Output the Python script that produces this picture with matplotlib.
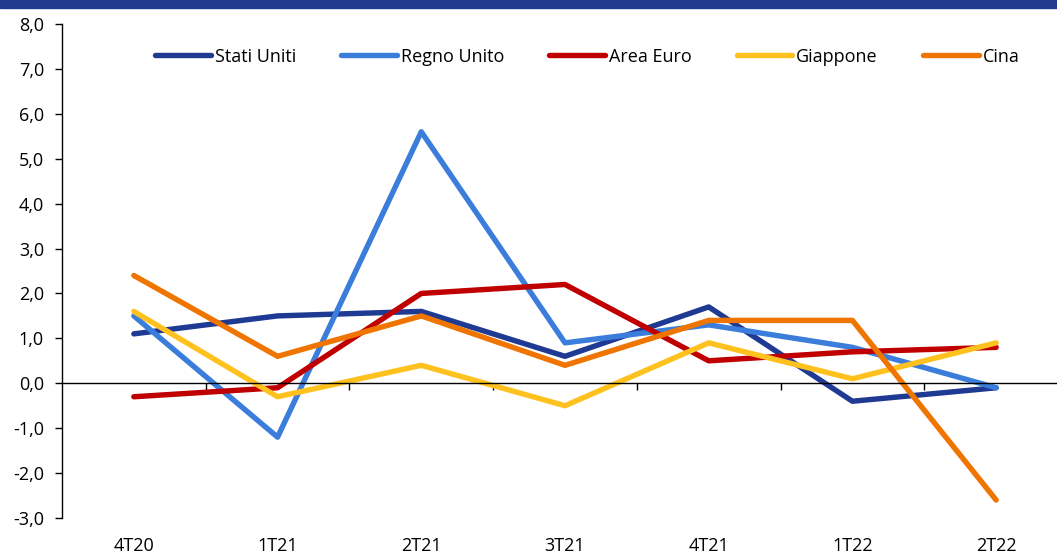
import numpy as np
import matplotlib
matplotlib.use("Agg")
from matplotlib import pyplot as plt
from matplotlib.patches import Rectangle

plt.rcParams['font.family'] = ['Open Sans', 'DejaVu Sans']

quarters = ['4T20', '1T21', '2T21', '3T21', '4T21', '1T22', '2T22']
stati_uniti = [1.1, 1.5, 1.6, 0.6, 1.7, -0.4, -0.1]
regno_unito = [1.5, -1.2, 5.6, 0.9, 1.3, 0.8, -0.1]
area_euro = [-0.3, -0.1, 2.0, 2.2, 0.5, 0.7, 0.8]
giappone = [1.6, -0.3, 0.4, -0.5, 0.9, 0.1, 0.9]
cina = [2.4, 0.6, 1.5, 0.4, 1.4, 1.4, -2.6]

series = [('Stati Uniti', stati_uniti, '#1f3a93'),
          ('Regno Unito', regno_unito, '#3a7ddb'),
          ('Area Euro', area_euro, '#c00000'),
          ('Giappone', giappone, '#ffc11e'),
          ('Cina', cina, '#ef7500')]

W, H = 1057, 554
fig = plt.figure(figsize=(W/100, H/100), dpi=100)
# dark band on top
fig.add_artist(Rectangle((0, 1 - 8/H), 1, 8/H, transform=fig.transFigure,
                         color='#213b8f', zorder=10))

ax = fig.add_axes([62/W, 1 - 518/H, (1068 - 62)/W, (518 - 24)/H])
x = np.arange(len(quarters))
for name, vals, col in series:
    ax.plot(x, vals, color=col, lw=3.9, label=name,
            solid_capstyle='round', solid_joinstyle='round')

ax.set_xlim(-0.5, len(quarters) - 0.5)
ax.set_ylim(-3, 8)
ax.set_yticks(np.arange(-3, 9, 1))
ax.set_yticklabels([('%.1f' % v).replace('.', ',') for v in np.arange(-3, 9, 1)])
ax.tick_params(axis='y', direction='out', length=5, width=1, labelsize=13, pad=8)

for s in ['top', 'right']:
    ax.spines[s].set_visible(False)
ax.spines['left'].set_linewidth(1)
ax.spines['bottom'].set_position(('data', 0))
ax.spines['bottom'].set_linewidth(1)
ax.set_xticks(np.arange(0.5, len(quarters) - 0.5, 1))
ax.set_xticklabels([])
ax.tick_params(axis='x', direction='out', length=5, width=1)

sec = ax.secondary_xaxis('bottom')
sec.set_xticks(x)
sec.set_xticklabels(quarters)
sec.tick_params(length=0, labelsize=13, pad=14)
sec.spines['bottom'].set_visible(False)

leg = ax.legend(loc='upper center', bbox_to_anchor=(0.522, 0.985), ncol=5,
                frameon=False, fontsize=13, handlelength=3.1,
                handletextpad=0.2, columnspacing=2.5)
for h in leg.get_lines():
    h.set_solid_capstyle('round')

fig.savefig('out.png', dpi=100)
